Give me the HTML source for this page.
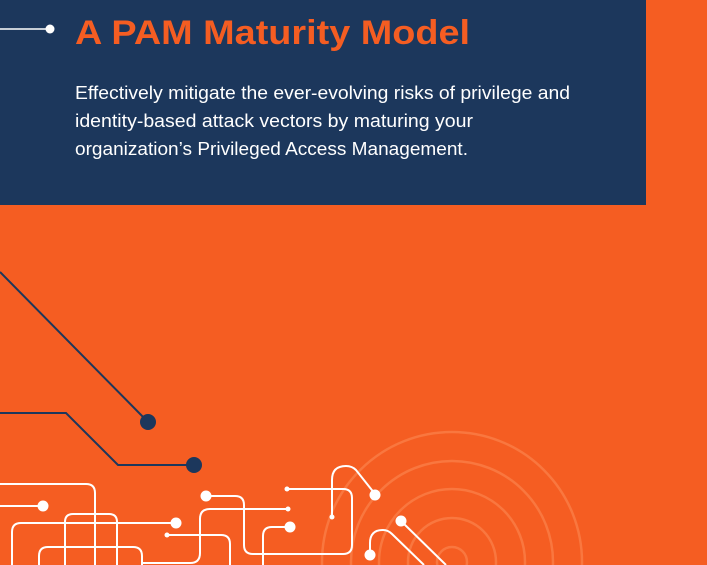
<!DOCTYPE html>
<html><head><style>
html,body{margin:0;padding:0;width:707px;height:565px;overflow:hidden;background:#f55d22;}
svg{display:block}
</style></head><body>
<svg width="707" height="565" viewBox="0 0 707 565" xmlns="http://www.w3.org/2000/svg">
<rect width="707" height="565" fill="#f55d22"/>
<rect x="0" y="0" width="646" height="205" fill="#1c375c"/>
<line x1="0" y1="29" x2="49" y2="29" stroke="#fff" stroke-width="1.5"/>
<circle cx="50" cy="29" r="4.5" fill="#fff"/>
<text x="75" y="44" font-family="Liberation Sans, sans-serif" font-weight="bold" font-size="34" fill="#f55d22" textLength="395" lengthAdjust="spacingAndGlyphs">A PAM Maturity Model</text>
<g font-family="Liberation Sans, sans-serif" font-size="18" fill="#fff">
<text x="75" y="99" textLength="495" lengthAdjust="spacingAndGlyphs">Effectively mitigate the ever-evolving risks of privilege and</text>
<text x="75" y="127" textLength="398" lengthAdjust="spacingAndGlyphs">identity-based attack vectors by maturing your</text>
<text x="75" y="155" textLength="393" lengthAdjust="spacingAndGlyphs">organization’s Privileged Access Management.</text>
</g>
<g fill="none" stroke="#f9773f" stroke-width="2.5">
<circle cx="452" cy="562" r="130"/>
<circle cx="452" cy="562" r="101"/>
<circle cx="452" cy="562" r="73"/>
<circle cx="452" cy="562" r="44"/>
<circle cx="452" cy="562" r="15"/>
</g>
<g fill="none" stroke="#1c375c" stroke-width="2">
<polyline points="0,272 148,422"/>
<polyline points="0,413 66,413 118,465 194,465"/>
</g>
<circle cx="148" cy="422" r="8" fill="#1c375c"/>
<circle cx="194" cy="465" r="8" fill="#1c375c"/>
<g fill="none" stroke="#fff" stroke-width="2">
<path d="M0,484 H86 Q95,484 95,493 V565"/>
<path d="M0,506 H43"/>
<path d="M176,523 H21 Q12,523 12,532 V565"/>
<path d="M65,565 V522 Q65,514 73,514 H109 Q117,514 117,522 V565"/>
<path d="M39,565 V556 Q39,547 48,547 H133 Q142,547 142,556 V565"/>
<path d="M167,535 H221 Q230,535 230,544 V565"/>
<path d="M143,563 H190 Q200,563 200,553 V519 Q200,509 210,509 H288"/>
<path d="M206,496 H235 Q244,496 244,505 V545 Q244,554 253,554 H343 Q352,554 352,545 V498 Q352,489 343,489 H287"/>
<path d="M290,527 H272 Q263,527 263,536 V565"/>
<path d="M332,517 V480 Q332,466 346,466 Q352,466 356,470 L375,494"/>
<path d="M370,555 V543 Q370,530 383,530 Q388,530 392,534 L424,565"/>
<path d="M401,521 L446,565"/>
</g>
<g fill="#fff">
<circle cx="43" cy="506" r="5.5"/>
<circle cx="176" cy="523" r="5.5"/>
<circle cx="167" cy="535" r="2.5"/>
<circle cx="288" cy="509" r="2.5"/>
<circle cx="206" cy="496" r="5.5"/>
<circle cx="287" cy="489" r="2.5"/>
<circle cx="290" cy="527" r="5.5"/>
<circle cx="332" cy="517" r="2.5"/>
<circle cx="375" cy="495" r="5.5"/>
<circle cx="370" cy="555" r="5.5"/>
<circle cx="401" cy="521" r="5.5"/>
</g>
</svg>
</body></html>
